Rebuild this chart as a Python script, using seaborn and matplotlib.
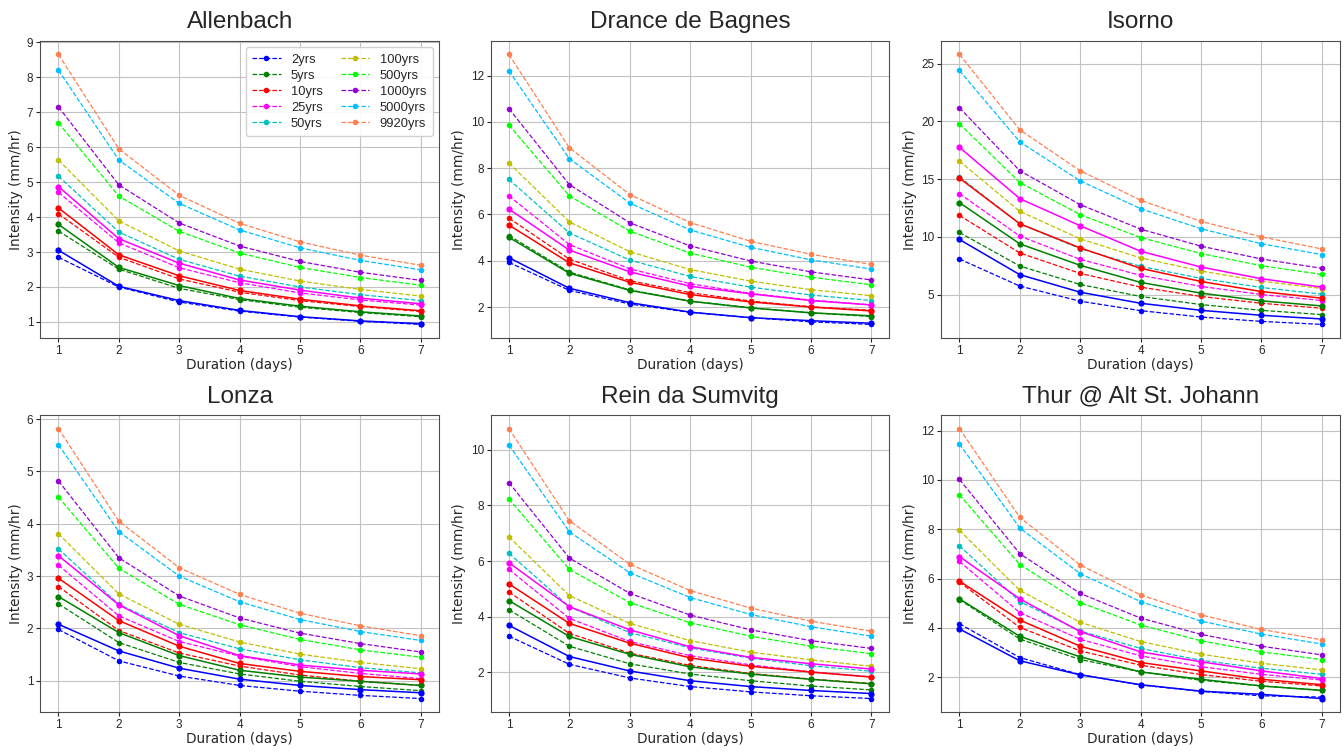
import numpy as np
import pandas as pd
import matplotlib
matplotlib.use("Agg")
import matplotlib.pyplot as plt
import seaborn as sns

durations = [1, 2, 3, 4, 5, 6, 7]
periods = ["2yrs", "5yrs", "10yrs", "25yrs", "50yrs", "100yrs", "500yrs", "1000yrs", "5000yrs", "9920yrs"]
colors = ["#0000FF", "#008000", "#FF0000", "#FF00FF", "#00BFBF", "#BFBF00", "#00FF00", "#9400D3", "#00BFFF", "#FF7F50"]
stations = ["Allenbach", "Drance de Bagnes", "Isorno", "Lonza", "Rein da Sumvitg", "Thur @ Alt St. Johann"]

# dashed series: one row per return period (2yrs ... 9920yrs)
allenbach_dashed = [
    [2.85, 2.00, 1.57, 1.31, 1.14, 1.02, 0.93],
    [3.60, 2.51, 1.96, 1.64, 1.42, 1.27, 1.15],
    [4.09, 2.85, 2.23, 1.85, 1.61, 1.44, 1.30],
    [4.71, 3.26, 2.55, 2.12, 1.83, 1.63, 1.48],
    [5.17, 3.57, 2.79, 2.31, 2.00, 1.78, 1.61],
    [5.63, 3.89, 3.03, 2.51, 2.17, 1.93, 1.74],
    [6.69, 4.60, 3.59, 2.97, 2.56, 2.27, 2.05],
    [7.15, 4.92, 3.83, 3.17, 2.73, 2.42, 2.19],
    [8.20, 5.63, 4.39, 3.63, 3.12, 2.76, 2.49],
    [8.65, 5.95, 4.62, 3.82, 3.29, 2.91, 2.62],
]
allenbach_solid = [
    [3.05, 2.02, 1.61, 1.33, 1.15, 1.03, 0.95],
    [3.79, 2.56, 2.04, 1.67, 1.45, 1.29, 1.17],
    [4.26, 2.92, 2.32, 1.90, 1.65, 1.46, 1.32],
    [4.87, 3.38, 2.68, 2.20, 1.91, 1.68, 1.52],
]

drance_dashed = [
    [3.93, 2.72, 2.13, 1.77, 1.54, 1.36, 1.25],
    [5.09, 3.51, 2.74, 2.26, 1.97, 1.75, 1.59],
    [5.84, 4.07, 3.14, 2.62, 2.26, 2.01, 1.86],
    [6.80, 4.70, 3.65, 3.01, 2.59, 2.30, 2.09],
    [7.51, 5.20, 4.03, 3.32, 2.86, 2.52, 2.28],
    [8.22, 5.68, 4.39, 3.62, 3.12, 2.75, 2.49],
    [9.86, 6.80, 5.28, 4.33, 3.72, 3.29, 2.96],
    [10.57, 7.29, 5.64, 4.64, 3.99, 3.52, 3.17],
    [12.20, 8.41, 6.49, 5.33, 4.58, 4.04, 3.64],
    [12.91, 8.88, 6.86, 5.65, 4.84, 4.28, 3.84],
]
drance_solid = [
    [4.13, 2.81, 2.19, 1.78, 1.54, 1.41, 1.30],
    [5.01, 3.46, 2.72, 2.25, 1.96, 1.75, 1.62],
    [5.54, 3.91, 3.07, 2.54, 2.22, 2.00, 1.83],
    [6.23, 4.46, 3.52, 2.90, 2.57, 2.28, 2.09],
]

isorno_dashed = [
    [8.08, 5.73, 4.42, 3.60, 3.05, 2.67, 2.41],
    [10.38, 7.47, 5.87, 4.83, 4.13, 3.63, 3.26],
    [11.86, 8.60, 6.83, 5.64, 4.83, 4.24, 3.81],
    [13.75, 10.06, 8.05, 6.66, 5.70, 5.00, 4.48],
    [15.20, 11.13, 8.98, 7.44, 6.40, 5.61, 5.03],
    [16.57, 12.21, 9.83, 8.17, 7.04, 6.16, 5.52],
    [19.80, 14.71, 11.92, 9.94, 8.55, 7.50, 6.74],
    [21.19, 15.73, 12.79, 10.67, 9.19, 8.08, 7.27],
    [24.42, 18.23, 14.85, 12.44, 10.70, 9.40, 8.46],
    [25.81, 19.27, 15.73, 13.17, 11.34, 10.00, 8.95],
]
isorno_solid = [
    [9.77, 6.72, 5.20, 4.24, 3.63, 3.20, 2.88],
    [12.97, 9.39, 7.53, 6.05, 5.12, 4.45, 4.01],
    [15.09, 11.13, 9.04, 7.27, 6.13, 5.26, 4.68],
    [17.76, 13.31, 10.96, 8.75, 7.38, 6.37, 5.64],
]

lonza_dashed = [
    [1.98, 1.38, 1.09, 0.91, 0.80, 0.72, 0.66],
    [2.47, 1.73, 1.35, 1.13, 0.99, 0.89, 0.81],
    [2.80, 1.96, 1.53, 1.28, 1.11, 0.99, 0.91],
    [3.21, 2.24, 1.75, 1.47, 1.27, 1.14, 1.04],
    [3.52, 2.46, 1.92, 1.61, 1.40, 1.25, 1.15],
    [3.81, 2.66, 2.08, 1.74, 1.51, 1.35, 1.23],
    [4.51, 3.15, 2.46, 2.07, 1.79, 1.59, 1.45],
    [4.82, 3.35, 2.62, 2.20, 1.91, 1.71, 1.55],
    [5.51, 3.85, 3.00, 2.51, 2.17, 1.94, 1.77],
    [5.82, 4.05, 3.16, 2.65, 2.29, 2.05, 1.86],
]
lonza_solid = [
    [2.08, 1.57, 1.24, 1.03, 0.91, 0.83, 0.77],
    [2.61, 1.92, 1.48, 1.20, 1.07, 0.99, 0.91],
    [2.96, 2.15, 1.66, 1.33, 1.18, 1.08, 1.02],
    [3.39, 2.45, 1.86, 1.48, 1.30, 1.20, 1.13],
]

rein_dashed = [
    [3.30, 2.29, 1.80, 1.49, 1.30, 1.16, 1.06],
    [4.25, 2.94, 2.31, 1.94, 1.70, 1.51, 1.37],
    [4.89, 3.40, 2.69, 2.25, 1.96, 1.76, 1.60],
    [5.70, 3.94, 3.11, 2.60, 2.27, 2.02, 1.84],
    [6.28, 4.36, 3.43, 2.88, 2.51, 2.24, 2.04],
    [6.87, 4.76, 3.76, 3.14, 2.73, 2.45, 2.22],
    [8.23, 5.70, 4.51, 3.78, 3.30, 2.94, 2.67],
    [8.82, 6.11, 4.84, 4.06, 3.53, 3.14, 2.86],
    [10.17, 7.05, 5.58, 4.69, 4.08, 3.64, 3.30],
    [10.76, 7.45, 5.89, 4.94, 4.31, 3.84, 3.48],
]
rein_solid = [
    [3.69, 2.57, 2.05, 1.70, 1.49, 1.35, 1.24],
    [4.58, 3.29, 2.65, 2.20, 1.94, 1.75, 1.59],
    [5.18, 3.76, 3.05, 2.52, 2.22, 2.01, 1.83],
    [5.94, 4.36, 3.53, 2.92, 2.54, 2.31, 2.12],
]

thur_dashed = [
    [4.17, 2.80, 2.11, 1.69, 1.43, 1.25, 1.20],
    [5.15, 3.55, 2.72, 2.22, 1.88, 1.65, 1.47],
    [5.86, 4.02, 3.07, 2.49, 2.11, 1.84, 1.65],
    [6.70, 4.62, 3.54, 2.87, 2.43, 2.12, 1.89],
    [7.33, 5.07, 3.88, 3.17, 2.69, 2.37, 2.12],
    [7.96, 5.52, 4.23, 3.45, 2.94, 2.57, 2.30],
    [9.40, 6.57, 5.03, 4.12, 3.48, 3.03, 2.72],
    [10.02, 7.01, 5.40, 4.40, 3.74, 3.26, 2.91],
    [11.46, 8.05, 6.20, 5.07, 4.28, 3.75, 3.35],
    [12.08, 8.48, 6.55, 5.34, 4.53, 3.94, 3.52],
]
thur_solid = [
    [3.96, 2.67, 2.10, 1.70, 1.44, 1.31, 1.14],
    [5.18, 3.66, 2.83, 2.22, 1.92, 1.65, 1.47],
    [5.90, 4.32, 3.26, 2.60, 2.26, 1.92, 1.70],
    [6.89, 5.18, 3.85, 3.03, 2.63, 2.26, 1.95],
]

dashed_sets = [allenbach_dashed, drance_dashed, isorno_dashed, lonza_dashed, rein_dashed, thur_dashed]
solid_sets = [allenbach_solid, drance_solid, isorno_solid, lonza_solid, rein_solid, thur_solid]
ytick_sets = [
    [1, 2, 3, 4, 5, 6, 7, 8, 9],
    [2, 4, 6, 8, 10, 12],
    [5, 10, 15, 20, 25],
    [1, 2, 3, 4, 5, 6],
    [2, 4, 6, 8, 10],
    [2, 4, 6, 8, 10, 12],
]

sns.set_style("whitegrid", {
    "axes.edgecolor": "0.3",
    "grid.color": "0.76",
    "xtick.bottom": True,
    "ytick.left": True,
    "axes.linewidth": 1.0,
})
plt.rcParams["font.family"] = ["Liberation Sans", "DejaVu Sans"]
plt.rcParams["xtick.major.size"] = 3
plt.rcParams["ytick.major.size"] = 3
plt.rcParams["xtick.color"] = "0.15"
plt.rcParams["ytick.color"] = "0.15"

fig, axes = plt.subplots(2, 3, figsize=(13.44, 7.53), dpi=100)
fig.subplots_adjust(left=0.030, right=0.997, top=0.9456, bottom=0.0544, wspace=0.13, hspace=0.26)

for idx, ax in enumerate(axes.flat):
    dashed = dashed_sets[idx]
    solid = solid_sets[idx]
    for k, vals in enumerate(dashed):
        sns.lineplot(x=durations, y=vals, ax=ax, color=colors[k], linestyle="--",
                     linewidth=0.9, marker="o", markersize=4, markeredgewidth=0,
                     label=periods[k])
    for k, vals in enumerate(solid):
        sns.lineplot(x=durations, y=vals, ax=ax, color=colors[k], linestyle="-",
                     linewidth=1.1, marker="o", markersize=4.5, markeredgewidth=0,
                     label="_nolegend_")
    ax.set_title(stations[idx], fontsize=17.5, pad=9)
    ax.set_xlabel("Duration (days)", fontsize=9.8, labelpad=1, family="DejaVu Sans")
    ax.set_ylabel("Intensity (mm/hr)", fontsize=9.8, labelpad=3, family="DejaVu Sans")
    ax.set_xticks(durations)
    ax.set_yticks(ytick_sets[idx])
    ax.tick_params(labelsize=8.5, pad=2)
    if idx == 0:
        ax.legend(loc="upper right", ncol=2, fontsize=9.3, handlelength=2.2,
                  columnspacing=1.4, labelspacing=0.3, borderpad=0.5,
                  framealpha=0.9)
    else:
        lg = ax.get_legend()
        if lg is not None:
            lg.remove()

fig.savefig("out.png", dpi=100)
